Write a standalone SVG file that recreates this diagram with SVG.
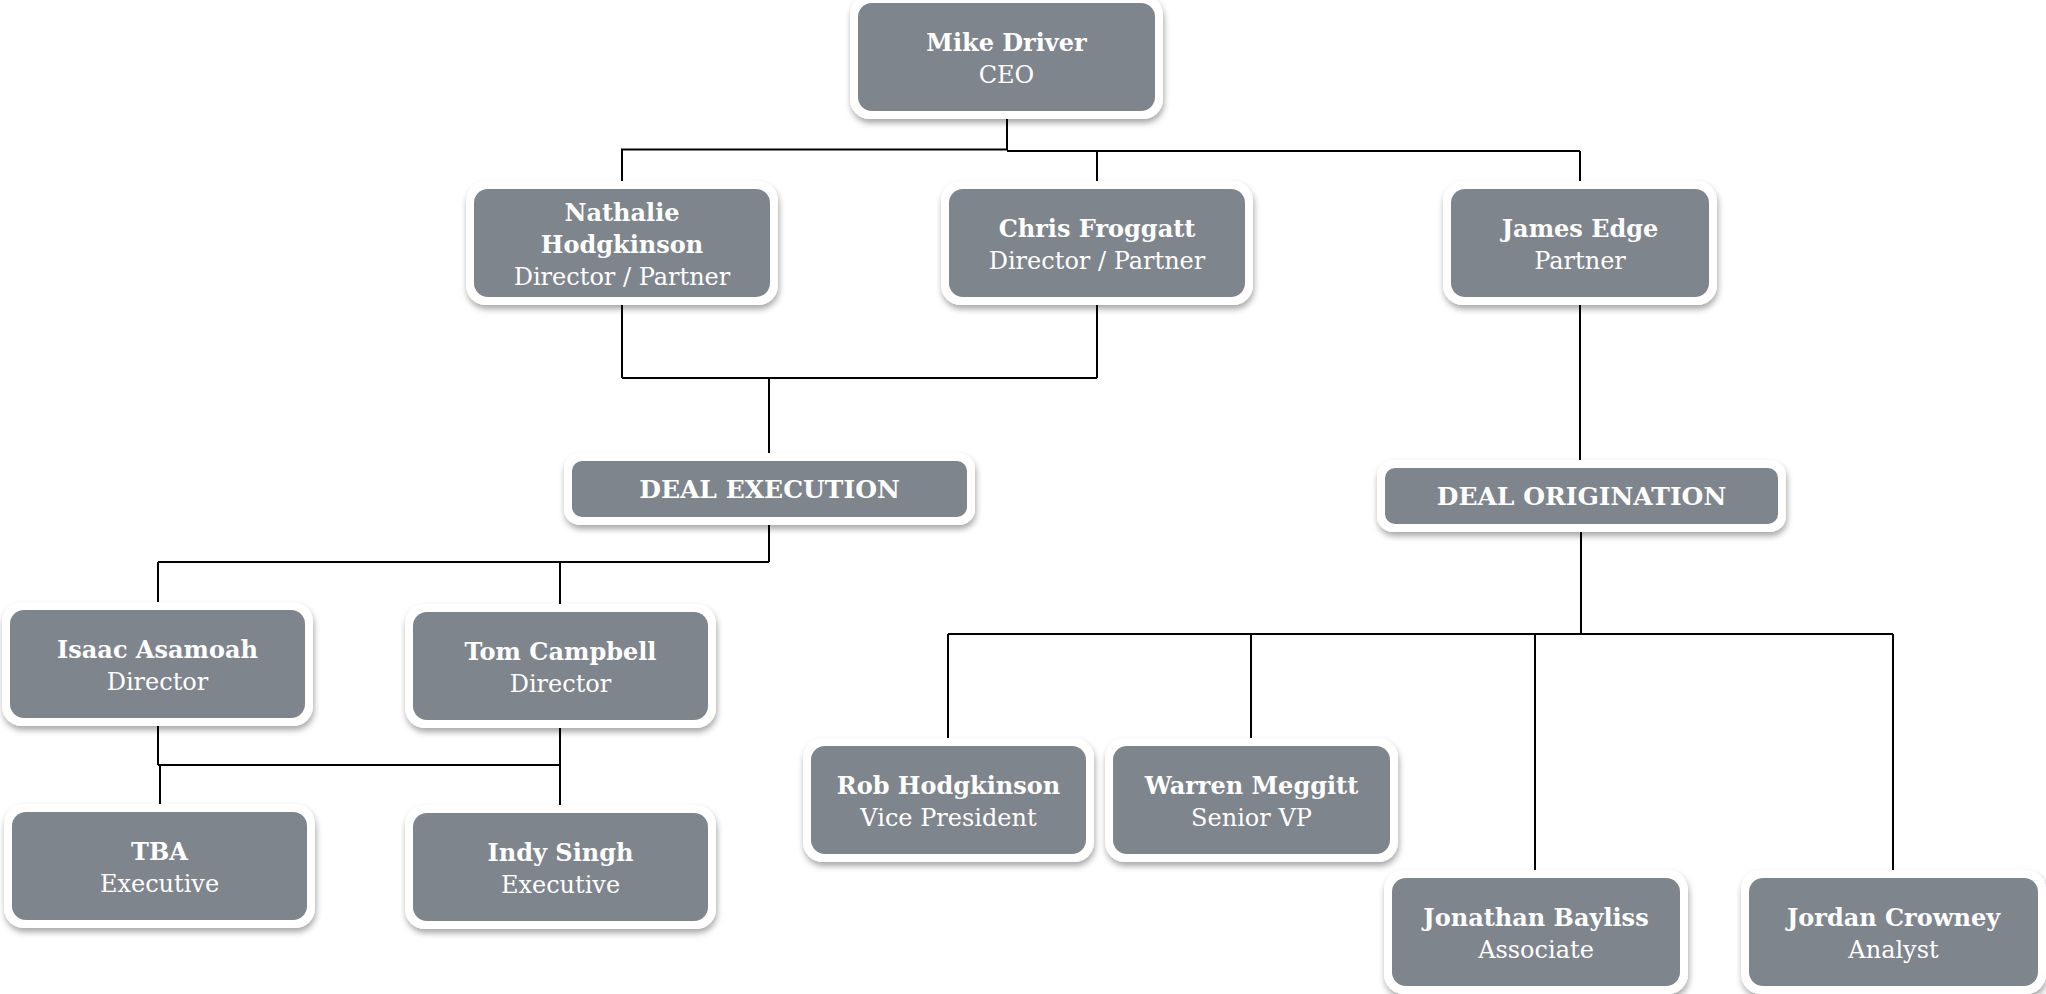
<svg xmlns="http://www.w3.org/2000/svg" width="2046" height="994" viewBox="0 0 2046 994">
<style>
.frame{fill:#ffffff;filter:url(#sh);}
.box{fill:#7f858d;}
.n{font-family:"DejaVu Serif","Liberation Serif",serif;font-size:24px;font-weight:bold;fill:#ffffff;text-anchor:middle;}
.d{font-family:"DejaVu Serif","Liberation Serif",serif;font-size:25px;font-weight:bold;fill:#ffffff;text-anchor:middle;}
.t{font-family:"DejaVu Serif","Liberation Serif",serif;font-size:24px;fill:#ffffff;text-anchor:middle;}
.c{fill:none;stroke:#000000;stroke-width:2;}
</style>
<defs>
<filter id="sh" x="-10%" y="-20%" width="120%" height="150%">
<feDropShadow dx="1" dy="4" stdDeviation="3" flood-color="#000000" flood-opacity="0.35"/>
</filter>
</defs>
<rect width="2046" height="994" fill="#ffffff"/>
<g id="connectors">
<path class="c" d="M1007 111 V150 M621 149.5 H1007 M1007 151 H1580 M622 149.5 V182 M1097 151 V182 M1580 151 V182"/>
<path class="c" d="M622 305 V378 M1097 305 V378 M622 378 H1097 M769 378 V453"/>
<path class="c" d="M769 525 V562 M158 562 H769 M158 562 V603 M560 562 V605"/>
<path class="c" d="M158 726 V765 M158 765 H560 M560 728 V806 M160 765 V805"/>
<path class="c" d="M1580 305 V461"/>
<path class="c" d="M1581 532 V634 M948 634 H1893 M948 634 V739 M1251 634 V739 M1535 634 V871 M1893 634 V871"/>
</g>
<g id="ceo">
<rect class="frame" x="850" y="-5" width="313" height="124" rx="20"/>
<rect class="box" x="858" y="3" width="297" height="108" rx="14"/>
<text class="n" x="1006.5" y="51">Mike Driver</text>
<text class="t" x="1006.5" y="83">CEO</text>
</g>
<g id="nathalie">
<rect class="frame" x="466" y="181" width="312" height="124" rx="20"/>
<rect class="box" x="474" y="189" width="296" height="108" rx="14"/>
<text class="n" x="622" y="221">Nathalie</text>
<text class="n" x="622" y="253">Hodgkinson</text>
<text class="t" x="622" y="285">Director / Partner</text>
</g>
<g id="chris">
<rect class="frame" x="941" y="181" width="312" height="124" rx="20"/>
<rect class="box" x="949" y="189" width="296" height="108" rx="14"/>
<text class="n" x="1097" y="237">Chris Froggatt</text>
<text class="t" x="1097" y="269">Director / Partner</text>
</g>
<g id="james">
<rect class="frame" x="1443" y="181" width="274" height="124" rx="20"/>
<rect class="box" x="1451" y="189" width="258" height="108" rx="14"/>
<text class="n" x="1580" y="237">James Edge</text>
<text class="t" x="1580" y="269">Partner</text>
</g>
<g id="deal-execution">
<rect class="frame" x="564" y="453" width="411" height="72" rx="16"/>
<rect class="box" x="572" y="461" width="395" height="56" rx="10"/>
<text class="d" x="769.5" y="498">DEAL EXECUTION</text>
</g>
<g id="deal-origination">
<rect class="frame" x="1377" y="460" width="409" height="72" rx="16"/>
<rect class="box" x="1385" y="468" width="393" height="56" rx="10"/>
<text class="d" x="1581.5" y="505">DEAL ORIGINATION</text>
</g>
<g id="isaac">
<rect class="frame" x="2" y="602" width="311" height="124" rx="20"/>
<rect class="box" x="10" y="610" width="295" height="108" rx="14"/>
<text class="n" x="157.5" y="658">Isaac Asamoah</text>
<text class="t" x="157.5" y="690">Director</text>
</g>
<g id="tom">
<rect class="frame" x="405" y="604" width="311" height="124" rx="20"/>
<rect class="box" x="413" y="612" width="295" height="108" rx="14"/>
<text class="n" x="560.5" y="660">Tom Campbell</text>
<text class="t" x="560.5" y="692">Director</text>
</g>
<g id="tba">
<rect class="frame" x="4" y="804" width="311" height="124" rx="20"/>
<rect class="box" x="12" y="812" width="295" height="108" rx="14"/>
<text class="n" x="159.5" y="860">TBA</text>
<text class="t" x="159.5" y="892">Executive</text>
</g>
<g id="indy">
<rect class="frame" x="405" y="805" width="311" height="124" rx="20"/>
<rect class="box" x="413" y="813" width="295" height="108" rx="14"/>
<text class="n" x="560.5" y="861">Indy Singh</text>
<text class="t" x="560.5" y="893">Executive</text>
</g>
<g id="rob">
<rect class="frame" x="803" y="738" width="291" height="124" rx="20"/>
<rect class="box" x="811" y="746" width="275" height="108" rx="14"/>
<text class="n" x="948.5" y="794">Rob Hodgkinson</text>
<text class="t" x="948.5" y="826">Vice President</text>
</g>
<g id="warren">
<rect class="frame" x="1105" y="738" width="293" height="124" rx="20"/>
<rect class="box" x="1113" y="746" width="277" height="108" rx="14"/>
<text class="n" x="1251.5" y="794">Warren Meggitt</text>
<text class="t" x="1251.5" y="826">Senior VP</text>
</g>
<g id="jonathan">
<rect class="frame" x="1384" y="870" width="304" height="124" rx="20"/>
<rect class="box" x="1392" y="878" width="288" height="108" rx="14"/>
<text class="n" x="1536" y="926">Jonathan Bayliss</text>
<text class="t" x="1536" y="958">Associate</text>
</g>
<g id="jordan">
<rect class="frame" x="1741" y="870" width="305" height="124" rx="20"/>
<rect class="box" x="1749" y="878" width="289" height="108" rx="14"/>
<text class="n" x="1893.5" y="926">Jordan Crowney</text>
<text class="t" x="1893.5" y="958">Analyst</text>
</g>
</svg>
